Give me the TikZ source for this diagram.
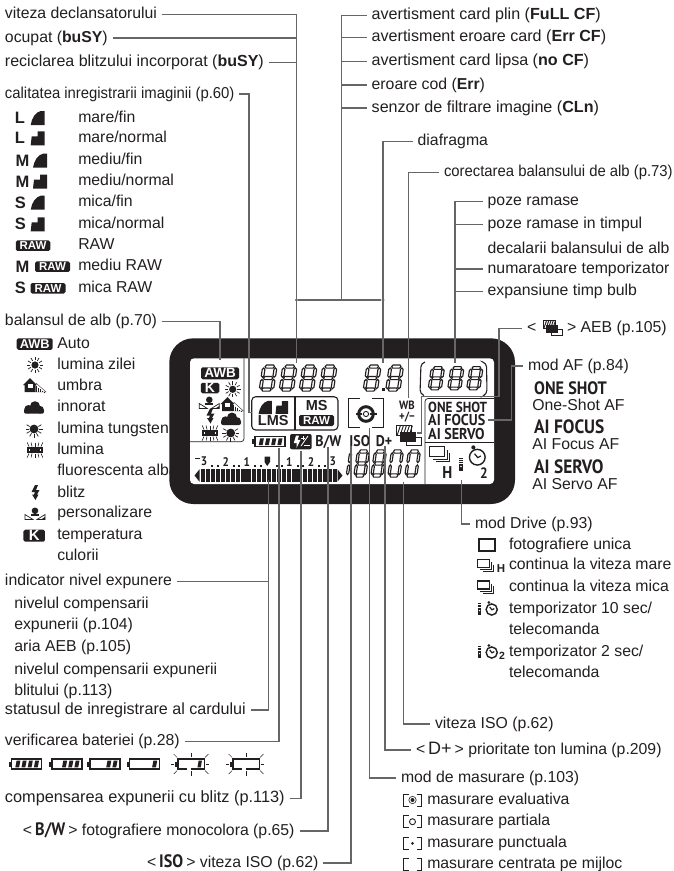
\documentclass[tikz,border=0pt]{standalone}
\usepackage{fontspec}
\setmainfont{Liberation Sans}
\newfontfamily\lcdfont[FakeStretch=0.9]{PT Sans}
\newfontfamily\narrowfont[FakeStretch=0.94]{Liberation Sans}
\usetikzlibrary{positioning}
\definecolor{ink}{HTML}{231F20}
\definecolor{wiregray}{HTML}{666666}

\begin{document}
\begin{tikzpicture}[
    x=1pt, y=-1pt,
    lbl/.style={anchor=west, inner sep=0pt, outer sep=0pt, text height=11.5pt, text depth=3.4pt, text=ink, font=\fontsize{15.8}{18}\selectfont},
    under/.style args={#1 by #2}{lbl, below right=#2 and 0pt of #1.south west},
    tight/.style={font=\fontsize{#1}{18}\selectfont},
    narrow/.style={font=\narrowfont\fontsize{15.8}{18}\selectfont},
    wire/.style={draw=wiregray, line width=1.1pt, shorten <=5pt},
    dotnode/.style={circle, fill=wiregray, inner sep=0pt, minimum size=3.2pt},
    letter/.style={anchor=center, inner sep=0pt, text=ink, font=\bfseries\fontsize{16.5}{17}\selectfont},
    badge/.style={fill=ink, text=white, rounded corners=1.6pt, inner sep=0pt, font=\bfseries\fontsize{#1}{#1}\selectfont},
    lcdtext/.style={anchor=center, inner sep=0pt, text=ink, font=\lcdfont\bfseries\fontsize{#1}{#1}\selectfont},
    modetext/.style={anchor=west, inner sep=0pt, text=ink, text height=0.7*#1pt, text depth=0pt, font=\lcdfont\bfseries\fontsize{#1}{18}\selectfont},
    frameline/.style={draw=ink, line width=0.7pt},
    fineicon/.pic={\fill[ink] (0,7) -- (14,7) -- (14,-7) -- (10,-7) .. controls (5,-6) and (1,0) .. cycle;},
    normicon/.pic={\fill[ink] (0,7) -- (14,7) -- (14,-7) -- (7,-7) -- (7,-2) -- (1,-2) -- (0,7) -- cycle;},
    sunicon/.pic={\fill[ink] (0,0) circle (3.6);
      \foreach \a in {0,30,...,330} \draw[ink, line width=0.7pt] (\a:4.6) -- (\a:8);},
    tungicon/.pic={\fill[ink] (0,0) circle (4.4);
      \foreach \a in {-30,0,30,60,90,120,150,180,210} \draw[ink, line width=0.7pt] (\a:5) -- (\a:8.5);},
    fluoricon/.pic={\draw[ink, line width=1.2pt] (-7,-2) rectangle (7,2);
      \fill[ink] (-5,-1) rectangle (5,1);
      \foreach \a in {-6,-3,0,3,6} {\draw[ink, line width=0.6pt] (\a,-3.5) -- (\a*1.3,-7.5); \draw[ink, line width=0.6pt] (\a,3.5) -- (\a*1.3,7.5);}},
    flashicon/.pic={\fill[ink] (0,-8) -- (3,-8) -- (1,-3) -- (4.5,-3) -- (2,1.5) -- (3.5,1.5) -- (0.5,7) -- (-3,1.5) -- (-1,1.5) -- (0,-1) -- (-3.5,-1) -- cycle;},
    houseicon/.pic={\fill[ink] (-12,-1) -- (-5,-8) -- (2,-1) -- (0.5,-1) -- (0.5,6) -- (-10.5,6) -- (-10.5,-1) -- cycle;
      \fill[white] (-7.5,-2) rectangle (-2.5,2);
      \foreach \a in {2,4,6,8,10} \draw[ink, line width=0.35pt] (\a-1,-2+\a*0.9) -- (\a-1,6);
      \draw[ink, line width=0.35pt] (1,-3) -- (11,6) -- (1,6);},
    cloudicon/.pic={\fill[ink] (1,-1.5) circle (5); \fill[ink] (-5.5,1.5) circle (4.2); \fill[ink] (6,2) circle (3.8);
      \fill[ink, rounded corners=2pt] (-10,1) rectangle (10,6);},
    customicon/.pic={\fill[ink] (0,-3.2) circle (3.3); \fill[ink] (-4,0) rectangle (4,1.8);
      \draw[ink, line width=0.7pt] (-10,5.5) -- (-2,5.5) -- (-10,0.5) -- cycle;
      \draw[ink, line width=0.7pt] (10,5.5) -- (2,5.5) -- (10,0.5) -- cycle;
      \fill[ink] (10,5.5) -- (6,5.5) -- (10,3) -- cycle;},
    batticon/.pic={\draw[ink, line width=1.1pt] (0,-5) rectangle (30,5);
      \fill[ink] (-3,-2.5) rectangle (0,2.5);
      \foreach \i in {1,2,3,4} {\ifnum\i>#1\else
        \fill[ink] ({27.5-6.2*(\i-1)},-3.3) -- ({23.7-6.2*(\i-1)},-3.3) -- ({22.4-6.2*(\i-1)},3.3) -- ({26.2-6.2*(\i-1)},3.3) -- cycle;\fi}},
    rayicon/.pic={\draw[white, line width=1.6pt] (10,5) -- (15,5);
      \draw[ink, line width=0.5pt] (15,-7) -- (15,-11.5);
      \draw[ink, line width=0.5pt] (15,7) -- (15,11.5);
      \draw[ink, line width=0.5pt] (-5,0) -- (-8,0);
      \draw[ink, line width=0.5pt] (32,0) -- (36,0);
      \draw[ink, line width=0.5pt] (-1,-6.5) -- (-5,-10);
      \draw[ink, line width=0.5pt] (-1,6.5) -- (-5,10);
      \draw[ink, line width=0.5pt] (31,-6.5) -- (35,-10);
      \draw[ink, line width=0.5pt] (31,6.5) -- (35,10);},
    stackicon/.pic={\draw[ink, line width=1.2pt] (-9,-6) rectangle (3,2);
      \draw[ink, line width=0.9pt] (5,-3.5) -- (5,4) -- (-6.5,4);
      \draw[ink, line width=0.9pt] (7,-1) -- (7,6) -- (-4,6);},
    timericon/.pic={\draw[ink, line width=1.4pt] (0,0.5) circle (5.6);
      \fill[ink] (-2.8,-6.5) circle (1.5);
      \draw[ink, line width=1.2pt] (-2,-2) -- (0.3,0.8) -- (2.6,-0.4);},
    remoteicon/.pic={\foreach \b in {-6.5,-4.5,-2.5} \draw[ink, line width=0.8pt] (-2.1,\b) -- (2.1,\b);
      \fill[ink] (-2.1,-1) rectangle (2.1,6.5);
      \fill[white] (0,2) circle (0.9);},
    aebicon/.pic={\draw[ink, line width=0.9pt] (-2.3,1.6) rectangle (12,10);
      \fill[white] (-12.3,-10) rectangle (2.7,0);
      \draw[ink, line width=0.8pt] (-12.3,-10) rectangle (2.7,0);
      \foreach \a in {-12,-9,-6,-3,0} \draw[ink, line width=0.9pt] (\a,0) -- (\a+3.4,-10);
      \fill[ink] (-9,-4) rectangle (7,6);},
    meterbox/.pic={\draw[ink, line width=0.7pt] (-4,-6) -- (-9,-6) -- (-9,6) -- (-4,6);
      \draw[ink, line width=0.7pt] (4,-6) -- (9,-6) -- (9,6) -- (4,6);},
    segeight/.pic={\foreach \r in {0,12.5,25} \draw[ink, line width=1.15pt, fill=white] (1.5,\r) -- (3,\r-1.7) -- (12,\r-1.7) -- (13.5,\r) -- (12,\r+1.7) -- (3,\r+1.7) -- cycle;
      \foreach \c in {0,15} \foreach \r in {0,12.5} \draw[ink, line width=1.15pt, fill=white] (\c,\r+1.5) -- (\c+1.7,\r+3) -- (\c+1.7,\r+10) -- (\c,\r+11.5) -- (\c-1.7,\r+10) -- (\c-1.7,\r+3) -- cycle;},
    segzero/.pic={\foreach \r in {0,25} \draw[ink, line width=1.15pt, fill=white] (1.5,\r) -- (3,\r-1.7) -- (12,\r-1.7) -- (13.5,\r) -- (12,\r+1.7) -- (3,\r+1.7) -- cycle;
      \foreach \c in {0,15} \foreach \r in {0,12.5} \draw[ink, line width=1.15pt, fill=white] (\c,\r+1.5) -- (\c+1.7,\r+3) -- (\c+1.7,\r+10) -- (\c,\r+11.5) -- (\c-1.7,\r+10) -- (\c-1.7,\r+3) -- cycle;},
    segone/.pic={\foreach \r in {0,12.5} \draw[ink, line width=1.15pt, fill=white] (15,\r+1.5) -- (16.7,\r+3) -- (16.7,\r+10) -- (15,\r+11.5) -- (13.3,\r+10) -- (13.3,\r+3) -- cycle;},
    bigdigit/.style={xslant=0.15, xscale=0.78, yscale=0.92},
    midsdigit/.style={xslant=0.15, xscale=0.72, yscale=0.82},
    lowdigit/.style={xslant=0.15, xscale=0.66, yscale=0.96}
  ]
  \useasboundingbox (0,0) rectangle (674,871);
  \fill[white] (0,0) rectangle (674,871);

  \node[lbl] (viteza) at (5,14.5) {viteza declansatorului};
  \node[under=viteza by 8.6pt] (ocupat) {ocupat (\textbf{buSY})};
  \node[under=ocupat by 9.6pt, tight=16] (reciclarea) {reciclarea blitzului incorporat (\textbf{buSY})};
  \node[lbl, narrow] (calitatea) at (5,94) {calitatea inregistrarii imaginii (p.60)};
  \node[lbl] (qLfin) at (78.3,118) {mare/fin};
  \node[under=qLfin by 5.4pt] (qLnorm) {mare/normal};
  \node[under=qLnorm by 7.5pt] (qMfin) {mediu/fin};
  \node[under=qMfin by 6.1pt] (qMnorm) {mediu/normal};
  \node[under=qMnorm by 6.1pt] (qSfin) {mica/fin};
  \node[under=qSfin by 6.7pt] (qSnorm) {mica/normal};
  \node[under=qSnorm by 6.5pt] (qRaw) {RAW};
  \node[under=qRaw by 6.1pt] (qMraw) {mediu RAW};
  \node[under=qMraw by 6.7pt] (qSraw) {mica RAW};

  \node[letter] (letLa) at (20,118) {L};
  \node[letter] (letLb) at (20,138.3) {L};
  \node[letter] (letMa) at (22.5,160.7) {M};
  \node[letter] (letMb) at (22.5,181.7) {M};
  \node[letter] (letSa) at (20.5,202.7) {S};
  \node[letter] (letSb) at (20.5,224.3) {S};
  \node[letter] (letMc) at (22.5,266.7) {M};
  \node[letter] (letSc) at (20.5,288.3) {S};
  \pic at (30.7,118) {fineicon};
  \pic at (30.7,138.3) {normicon};
  \pic at (33,160.7) {fineicon};
  \pic at (33,181.7) {normicon};
  \pic at (30.7,202.7) {fineicon};
  \pic at (30.7,224.3) {normicon};
  \node[badge=11.5, minimum width=34.5pt, minimum height=10.5pt] (rawA) at (33,245.7) {RAW};
  \node[badge=11.5, minimum width=35pt, minimum height=10.5pt] (rawB) at (52.5,266.7) {RAW};
  \node[badge=11.5, minimum width=35pt, minimum height=10.5pt] (rawC) at (48,288.3) {RAW};

  \node[lbl] (balansul) at (5,321.7) {balansul de alb (p.70)};
  \node[lbl] (wbAuto) at (57.3,344) {Auto};
  \node[under=wbAuto by 6.1pt] (wbZilei) {lumina zilei};
  \node[under=wbZilei by 6.1pt] (wbUmbra) {umbra};
  \node[under=wbUmbra by 6.8pt] (wbInnorat) {innorat};
  \node[under=wbInnorat by 6.4pt] (wbTungsten) {lumina tungsten};
  \node[under=wbTungsten by 6.1pt] (wbLumina) {lumina};
  \node[under=wbLumina by 6.8pt] (wbFluor) {fluorescenta alba};
  \node[under=wbFluor by 6.4pt] (wbBlitz) {blitz};
  \node[under=wbBlitz by 5.1pt] (wbPers) {personalizare};
  \node[under=wbPers by 7.8pt] (wbTemp) {temperatura};
  \node[under=wbTemp by 6.1pt] (wbCulorii) {culorii};

  \node[badge=12.8, minimum width=36pt, minimum height=11.5pt] (badgeAwb) at (34.7,344) {AWB};
  \pic at (35,365) {sunicon};
  \pic at (35,386) {houseicon};
  \pic at (34,407.7) {cloudicon};
  \pic at (34,429) {tungicon};
  \pic at (35,450) {fluoricon};
  \pic at (35,493) {flashicon};
  \pic at (35,514) {customicon};
  \node[badge=15, minimum width=21.5pt, minimum height=12pt] (badgeK) at (34.2,535.7) {K};

  \node[lbl] (indicator) at (5,581.7) {indicator nivel expunere};
  \node[lbl] (nivelA) at (14.3,604) {nivelul compensarii};
  \node[under=nivelA by 6.1pt] (expunerii) {expunerii (p.104)};
  \node[under=expunerii by 7.4pt] (ariaAeb) {aria AEB (p.105)};
  \node[under=ariaAeb by 8.5pt] (nivelB) {nivelul compensarii expunerii};
  \node[under=nivelB by 5.4pt] (blitului) {blitului (p.113)};
  \node[lbl, tight=16.1] (statusul) at (5,710) {statusul de inregistrare al cardului};
  \node[lbl] (verificarea) at (5,741.7) {verificarea bateriei (p.28)};
  \pic at (11.5,764) {batticon=4};
  \pic at (52,764) {batticon=3};
  \pic at (90,764) {batticon=2};
  \pic at (129.7,764) {batticon=1};
  \pic[xscale=0.87] at (178,764) {batticon=1};
  \pic[xscale=0.87] at (178,764) {rayicon};
  \pic[xscale=0.87] at (233,764) {batticon=0};
  \pic[xscale=0.87] at (233,764) {rayicon};
  \node[lbl, tight=16.3] (compensarea) at (5,798.3) {compensarea expunerii cu blitz (p.113)};
  \node[lbl] (monocolora) at (23,831) {<{\lcdfont\bfseries\fontsize{18}{18}\selectfont\,B/W\,}> fotografiere monocolora (p.65)};
  \node[lbl] (isoLeft) at (147,863) {<{\lcdfont\bfseries\fontsize{18}{18}\selectfont\,ISO\,}> viteza ISO (p.62)};

  \node[lbl, tight=16.1] (plin) at (371.7,15.7) {avertisment card plin (\textbf{FuLL CF})};
  \node[under=plin by 7.1pt, tight=16.1] (eroare) {avertisment eroare card (\textbf{Err CF})};
  \node[under=eroare by 9.1pt, tight=16.1] (lipsa) {avertisment card lipsa (\textbf{no CF})};
  \node[under=lipsa by 8.4pt] (cod) {eroare cod (\textbf{Err})};
  \node[under=cod by 8.1pt, tight=16.1] (senzor) {senzor de filtrare imagine (\textbf{CLn})};
  \node[lbl] (diafragma) at (417.7,141.7) {diafragma};
  \node[lbl, narrow] (corectarea) at (444,172.7) {corectarea balansului de alb (p.73)};
  \node[lbl] (pozeA) at (487.7,201.7) {poze ramase};
  \node[under=pozeA by 7.7pt] (pozeB) {poze ramase in timpul};
  \node[under=pozeB by 9.8pt] (decalarii) {decalarii balansului de alb};
  \node[under=decalarii by 5.1pt] (numaratoare) {numaratoare temporizator};
  \node[under=numaratoare by 7.8pt] (expansiune) {expansiune timp bulb};
  \node[lbl] (aebOpen) at (527,328.3) {<};
  \node[lbl] (aebClose) at (567,328.3) {> AEB (p.105)};
  \pic[scale=0.75] at (553,328) {aebicon};

  \node[lbl] (modAf) at (528,366) {mod AF (p.84)};
  \node[modetext=18] (oneBig) at (534,387.7) {ONE SHOT};
  \node[lbl] (oneSmall) at (532.3,406) {One-Shot AF};
  \node[modetext=19.3] (focusBig) at (534,427) {AI FOCUS};
  \node[lbl] (focusSmall) at (532.3,445) {AI Focus AF};
  \node[modetext=19.3] (servoBig) at (534,467) {AI SERVO};
  \node[lbl] (servoSmall) at (532.3,485.7) {AI Servo AF};

  \node[lbl] (modDrive) at (475,524) {mod Drive (p.93)};
  \node[lbl] (drOne) at (509,545) {fotografiere unica};
  \node[under=drOne by 5.8pt] (drHigh) {continua la viteza mare};
  \node[under=drHigh by 6.4pt] (drLow) {continua la viteza mica};
  \node[under=drLow by 7.1pt] (drTenA) {temporizator 10 sec/};
  \node[under=drTenA by 6.1pt] (drTenB) {telecomanda};
  \node[under=drTenB by 7.8pt] (drTwoA) {temporizator 2 sec/};
  \node[under=drTwoA by 5.4pt] (drTwoB) {telecomanda};
  \draw[ink, line width=2pt] (478.5,539) rectangle (495,550.5);
  \pic at (486.5,565.5) {stackicon};
  \node[anchor=center, inner sep=0pt, text=ink, font=\bfseries\fontsize{11.5}{11.5}\selectfont] (drH) at (501,568.5) {H};
  \pic at (486.5,587) {stackicon};
  \pic[scale=0.85] at (479.5,609) {remoteicon};
  \pic at (491.7,609) {timericon};
  \pic[scale=0.85] at (479.5,652) {remoteicon};
  \pic at (491.7,652) {timericon};
  \node[anchor=center, inner sep=0pt, text=ink, font=\bfseries\fontsize{10.5}{10.5}\selectfont] (drTwo) at (502,656) {2};

  \node[lbl] (isoSpeed) at (435,724) {viteza ISO (p.62)};
  \node[lbl] (dPlus) at (416,750) {<{\fontsize{18}{18}\selectfont\,D+\,}> prioritate ton lumina (p.209)};
  \node[lbl] (masurare) at (401,778) {mod de masurare (p.103)};
  \node[lbl] (mEval) at (427.3,800) {masurare evaluativa};
  \node[under=mEval by 6.8pt] (mPart) {masurare partiala};
  \node[under=mPart by 6.7pt] (mSpot) {masurare punctuala};
  \node[under=mSpot by 5.8pt] (mCentre) {masurare centrata pe mijloc};
  \pic at (412.5,800) {meterbox};
  \fill[ink] (412.5,800) circle (2);
  \draw[ink, line width=0.6pt] (412.5,800) circle (3.7);
  \pic at (412.5,821.7) {meterbox};
  \draw[ink, line width=0.9pt] (412.5,821.7) circle (3);
  \pic at (412.5,843.3) {meterbox};
  \fill[ink] (412.5,843.3) circle (1.5);
  \pic at (412.5,864) {meterbox};

  \fill[ink, rounded corners=24pt] (169.3,338.3) rectangle (515,504);
  \fill[white, rounded corners=4pt] (190,358.3) rectangle (494,484);
  \draw[frameline, rounded corners=3pt] (190,441.7) -- (244,441.7) -- (244,358.3);
  \draw[frameline, rounded corners=3pt] (425,484) -- (425,398.5) -- (494,398.5);
  \draw[frameline] (425,442.7) -- (494,442.7);

  \node[badge=13.5, minimum width=38pt, minimum height=12pt] (lcdAwb) at (220,373.3) {AWB};
  \node[badge=14, minimum width=18.5pt, minimum height=10.5pt] (lcdK) at (210,388) {K};
  \pic at (232.7,389.3) {sunicon};
  \pic at (209.3,403) {customicon};
  \pic at (232.5,405) {houseicon};
  \pic at (210,416.5) {flashicon};
  \pic at (231,419) {cloudicon};
  \pic at (210,433) {fluoricon};
  \pic at (230.7,433) {tungicon};

  \foreach \a in {264,284,304,324} \pic[bigdigit] at (\a,366.6) {segeight};
  \foreach \a in {368,390.5} \pic[bigdigit] at (\a,366.6) {segeight};
  \fill[ink] (382,388) rectangle (385,391);
  \foreach \a in {432.5,452,471} \pic[midsdigit] at (\a,368) {segeight};
  \draw[ink, line width=1.1pt, rounded corners=4pt] (425,362) -- (421,363) -- (420,394) -- (424,395.5);
  \draw[ink, line width=1.1pt, rounded corners=4pt] (483,362) -- (486.5,363) -- (487,394) -- (484,395.5);

  \draw[ink, line width=1.1pt, rounded corners=4pt] (251.7,396.7) rectangle (338,430);
  \draw[ink, line width=1.1pt] (295,396.7) -- (295,430);
  \pic[scale=0.95] at (258.5,407.5) {fineicon};
  \pic[scale=0.9] at (275.5,407.5) {normicon};
  \node[anchor=center, inner sep=0pt, text=ink, font=\bfseries\fontsize{14.5}{14.5}\selectfont] (lcdLms) at (273.3,420.7) {LMS};
  \node[anchor=center, inner sep=0pt, text=ink, font=\bfseries\fontsize{14.5}{14.5}\selectfont] (lcdMs) at (316.7,406) {MS};
  \node[badge=11.5, minimum width=35pt, minimum height=11pt] (lcdRaw) at (316.5,420.5) {RAW};

  \draw[ink, line width=1.4pt] (360,398.5) -- (348.5,398.5) -- (348.5,427.5) -- (360,427.5);
  \draw[ink, line width=1.4pt] (372,398.5) -- (383.5,398.5) -- (383.5,427.5) -- (372,427.5);
  \draw[ink, line width=3pt] (366,414) circle (7.3);
  \fill[ink] (355.5,412.8) rectangle (376.5,415.2);
  \fill[white] (366,414) circle (4);
  \draw[ink, line width=0.9pt] (366,414) circle (2.6);

  \node[lcdtext=12] (lcdWb) at (407,405.7) {WB};
  \node[lcdtext=12] (lcdPm) at (407,417.5) {+/−};
  \pic at (409,435.7) {aebicon};
  \node[modetext=14.6] (lcdOne) at (428,407.3) {ONE SHOT};
  \node[modetext=15.7] (lcdFocus) at (428,420.3) {AI FOCUS};
  \node[modetext=15.7] (lcdServo) at (428,434.3) {AI SERVO};
  \pic[scale=1.25] at (441,454) {stackicon};
  \node[lcdtext=17] (lcdH) at (447.3,473) {H};
  \pic at (461,464.5) {remoteicon};
  \pic[scale=1.4] at (477.3,456.5) {timericon};
  \node[lcdtext=15] (lcdTwo) at (484,473) {2};

  \pic at (255,441.7) {batticon=4};
  \fill[ink, rounded corners=2pt] (290,434) rectangle (311.7,449.3);
  \fill[white] (296,435.5) -- (299,435.5) -- (297.6,439.8) -- (300.5,439.8) -- (296.5,448) -- (296.8,443) -- (293.8,443) -- cycle;
  \draw[white, line width=0.8pt] (301,446) -- (308,436);
  \draw[white, line width=0.8pt] (301,438) -- (305,438);
  \draw[white, line width=0.8pt] (303,436) -- (303,440);
  \draw[white, line width=0.8pt] (304,445) -- (309.5,445);
  \node[lcdtext=15.5] (lcdBw) at (328.3,441.7) {B/W};
  \node[lcdtext=15.5] (lcdIso) at (359.8,441.2) {ISO};
  \node[lcdtext=15.5] (lcdD) at (384,441.2) {D+};

  \pic[lowdigit] at (341,451.5) {segone};
  \pic[lowdigit] at (358.5,451.5) {segeight};
  \pic[lowdigit] at (375.5,451.5) {segeight};
  \pic[lowdigit] at (392.5,451.5) {segzero};
  \pic[lowdigit] at (409.5,451.5) {segzero};

  \node[lcdtext=12.5] (numA) at (204,461.7) {3};
  \node[lcdtext=12.5] (numB) at (225.7,461.7) {2};
  \node[lcdtext=12.5] (numC) at (246.7,461.7) {1};
  \node[lcdtext=12.5] (numD) at (289.3,461.7) {1};
  \node[lcdtext=12.5] (numE) at (311,461.7) {2};
  \node[lcdtext=12.5] (numF) at (332.7,461.7) {3};
  \fill[ink] (195,457.5) rectangle (199.5,459);
  \fill[ink] (264.5,456.5) -- (270,456.5) -- (270,462) -- (267.2,466) -- (264.5,462) -- cycle;
  \foreach \a in {211,216.5,232.5,238,254,259.5,275.5,281,296.5,302,318,323.5} \fill[ink] (\a,464.5) rectangle (\a+2.2,466.7);
  \foreach \a in {0,1,...,26} \fill[ink] (200.5+\a*5.1,469.3) rectangle (204.7+\a*5.1,481.7);
  \fill[ink] (199.5,469.3) -- (199.5,481.7) -- (194.5,475.5) -- cycle;
  \fill[ink] (337.5,469.3) -- (337.5,481.7) -- (342.5,475.5) -- cycle;

  \coordinate (shutterPt) at (296.5,362.5);
  \node[dotnode] (junctionL) at (296.5,300) {};
  \coordinate (junctionR) at (341.5,300);
  \node[dotnode] (junctionM) at (383,300) {};
  \coordinate (aperPt) at (383,363);
  \coordinate (qualPt) at (249,412.5);
  \coordinate (lmsPt) at (252,412.5);
  \coordinate (awbPt) at (220,359.5);
  \coordinate (wbPt) at (408.3,398);
  \coordinate (shotsPt) at (455,363);
  \coordinate (aebCorner) at (499,396.5);
  \coordinate (aebBend) at (421.5,396.5);
  \coordinate (aebPt) at (417,433);
  \coordinate (afBend) at (511.7,420);
  \coordinate (afPt) at (488,420);
  \coordinate (drivePt) at (461.7,480);
  \coordinate (isoValPt) at (403.3,481.7);
  \coordinate (dPt) at (385,445.5);
  \coordinate (meterPt) at (369.5,428);
  \coordinate (isoPt) at (351,446);
  \coordinate (bwPt) at (328,447);
  \coordinate (flashPt) at (301,450.5);
  \coordinate (battPt) at (279,448);
  \coordinate (barPt) at (268.3,480);

  \draw[wire] (viteza.east) -| (shutterPt);
  \draw[wire] (ocupat.east) -| (shutterPt);
  \draw[wire] (reciclarea.east) -| (shutterPt);
  \draw[wire] (calitatea.east) -| (qualPt) -- (lmsPt);
  \draw[wire] (balansul.east) -| (awbPt);
  \draw[wire] (plin.west) -| (junctionR);
  \draw[wire] (eroare.west) -| (junctionR);
  \draw[wire] (lipsa.west) -| (junctionR);
  \draw[wire] (cod.west) -| (junctionR);
  \draw[wire] (senzor.west) -| (junctionR);
  \draw[wire, shorten <=0pt] (junctionL) -- (junctionM);
  \draw[wire] (diafragma.west) -| (aperPt);
  \draw[wire] (corectarea.west) -| (wbPt);
  \draw[wire] (pozeA.west) -| (shotsPt);
  \draw[wire] (pozeB.west) -| (shotsPt);
  \draw[wire] (numaratoare.west) -| (shotsPt);
  \draw[wire] (expansiune.west) -| (shotsPt);
  \draw[wire] (aebOpen.west) -| (aebCorner) -- (aebBend) |- (aebPt);
  \draw[wire] (modAf.west) -| (afBend) -- (afPt);
  \draw[wire] (modDrive.west) -| (drivePt);
  \draw[wire] (isoSpeed.west) -| (isoValPt);
  \draw[wire] (dPlus.west) -| (dPt);
  \draw[wire] (masurare.west) -| (meterPt);
  \draw[wire] (isoLeft.east) -| (isoPt);
  \draw[wire] (monocolora.east) -| (bwPt);
  \draw[wire] (compensarea.east) -| (flashPt);
  \draw[wire] (verificarea.east) -| (battPt);
  \draw[wire] (indicator.east) -| (barPt);
  \draw[wire] (statusul.east) -| (barPt);
\end{tikzpicture}
\end{document}
